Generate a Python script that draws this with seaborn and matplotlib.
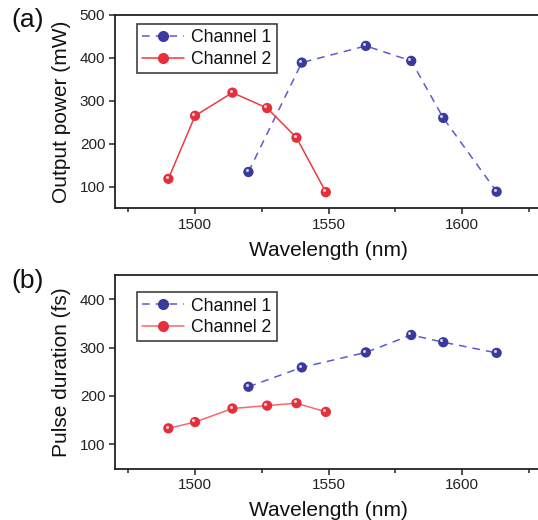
import numpy as np
import pandas as pd
import matplotlib
matplotlib.use("Agg")
import matplotlib.pyplot as plt
import matplotlib.transforms as mtransforms
from matplotlib.ticker import MultipleLocator
import seaborn as sns

# Channel 1 / Channel 2 tuning data
wl_ch1 = [1520, 1540, 1564, 1581, 1593, 1613]
wl_ch2 = [1490, 1500, 1514, 1527, 1538, 1549]
power_ch1 = [134, 389, 428, 393, 260, 88]
power_ch2 = [118, 265, 319, 283, 214, 87]
pulse_ch1 = [219, 259, 290, 326, 311, 289]
pulse_ch2 = [133, 146, 174, 180, 185, 167]

series_names = ["Channel 1", "Channel 2"]

sns.set_theme(style="ticks")
plt.rcParams["font.family"] = ["Liberation Sans", "DejaVu Sans"]
plt.rcParams["axes.edgecolor"] = "#222222"
plt.rcParams["xtick.color"] = "#222222"
plt.rcParams["ytick.color"] = "#222222"
plt.rcParams["text.color"] = "#111111"
plt.rcParams["axes.labelcolor"] = "#111111"

W, H = 538, 520
fig = plt.figure(figsize=(W / 100, H / 100), dpi=100)

ax_left = 115.0 / W
ax_width = (542 - 115.0) / W
ax_a = fig.add_axes([ax_left, 1 - 208.0 / H, ax_width, (208.0 - 15.0) / H])
ax_b = fig.add_axes([ax_left, 1 - 468.5 / H, ax_width, (468.5 - 275.0) / H])

styles = {
    "Channel 1": dict(line="#5b5bd0", marker="#3a3a9e", dash=(0, (5, 4))),
    "Channel 2": dict(line="#f03a40", marker="#e5303b", dash="-"),
}


def draw_panel(ax, y1, y2, ylim, yticks, ylabel, line2_color, legend_top):
    df = pd.DataFrame({
        "Wavelength": wl_ch1 + wl_ch2,
        "Value": y1 + y2,
        "Series": [series_names[0]] * len(wl_ch1) + [series_names[1]] * len(wl_ch2),
    })
    handles = []
    for name in series_names:
        sub = df[df["Series"] == name]
        st = styles[name]
        lc = st["line"] if name == "Channel 1" else line2_color
        sns.lineplot(data=sub, x="Wavelength", y="Value", ax=ax, color=lc,
                     linewidth=1.1, linestyle=st["dash"], sort=False,
                     legend=False, zorder=2)
        sns.scatterplot(data=sub, x="Wavelength", y="Value", ax=ax,
                        color=st["marker"], s=55, edgecolor="none",
                        legend=False, zorder=3)
        # small specular highlight on each sphere marker
        hl = mtransforms.offset_copy(ax.transData, fig=fig, x=-1.3, y=1.3, units="points")
        ax.plot(sub["Wavelength"], sub["Value"], "o", ms=2.2, color="white",
                alpha=0.75, mec="none", transform=hl, zorder=4)
        h, = ax.plot([], [], color=lc, linewidth=1.1, linestyle=st["dash"],
                     marker="o", ms=7, mfc=st["marker"], mec=st["marker"])
        handles.append(h)

    ax.set_xlim(1470, 1630)
    ax.set_ylim(*ylim)
    ax.set_yticks(yticks)
    ax.xaxis.set_major_locator(MultipleLocator(50))
    ax.xaxis.set_minor_locator(MultipleLocator(25))
    ax.tick_params(axis="both", which="major", direction="out", length=4,
                   width=1.1, labelsize=11, pad=3)
    ax.tick_params(axis="x", which="minor", direction="out", length=3, width=1.1)
    for side in ["left", "bottom", "top"]:
        ax.spines[side].set_linewidth(1.3)
    ax.spines["right"].set_visible(False)
    ax.set_xlabel("Wavelength (nm)", fontsize=15, labelpad=6.5)
    ax.set_ylabel(ylabel, fontsize=15, labelpad=6)

    leg = fig.legend(handles, series_names, loc="upper left",
                     bbox_to_anchor=(136.6 / W, 1 - legend_top / H),
                     bbox_transform=fig.transFigure, borderaxespad=0,
                     fontsize=12.7, frameon=True, fancybox=False,
                     handlelength=2.4, handletextpad=0.4, borderpad=0.3,
                     labelspacing=0.25)
    leg.get_frame().set_edgecolor("#111111")
    leg.get_frame().set_linewidth(1.2)


draw_panel(ax_a, power_ch1, power_ch2, (50, 500), [100, 200, 300, 400, 500],
           "Output power (mW)", "#f03a40", 24.0)
draw_panel(ax_b, pulse_ch1, pulse_ch2, (50, 450), [100, 200, 300, 400],
           "Pulse duration (fs)", "#f26a70", 292.3)

fig.text(11 / W, 1 - 20 / H, "(a)", fontsize=19, va="center", ha="left")
fig.text(11 / W, 1 - 281 / H, "(b)", fontsize=19, va="center", ha="left")

fig.savefig("out.png", dpi=100)
